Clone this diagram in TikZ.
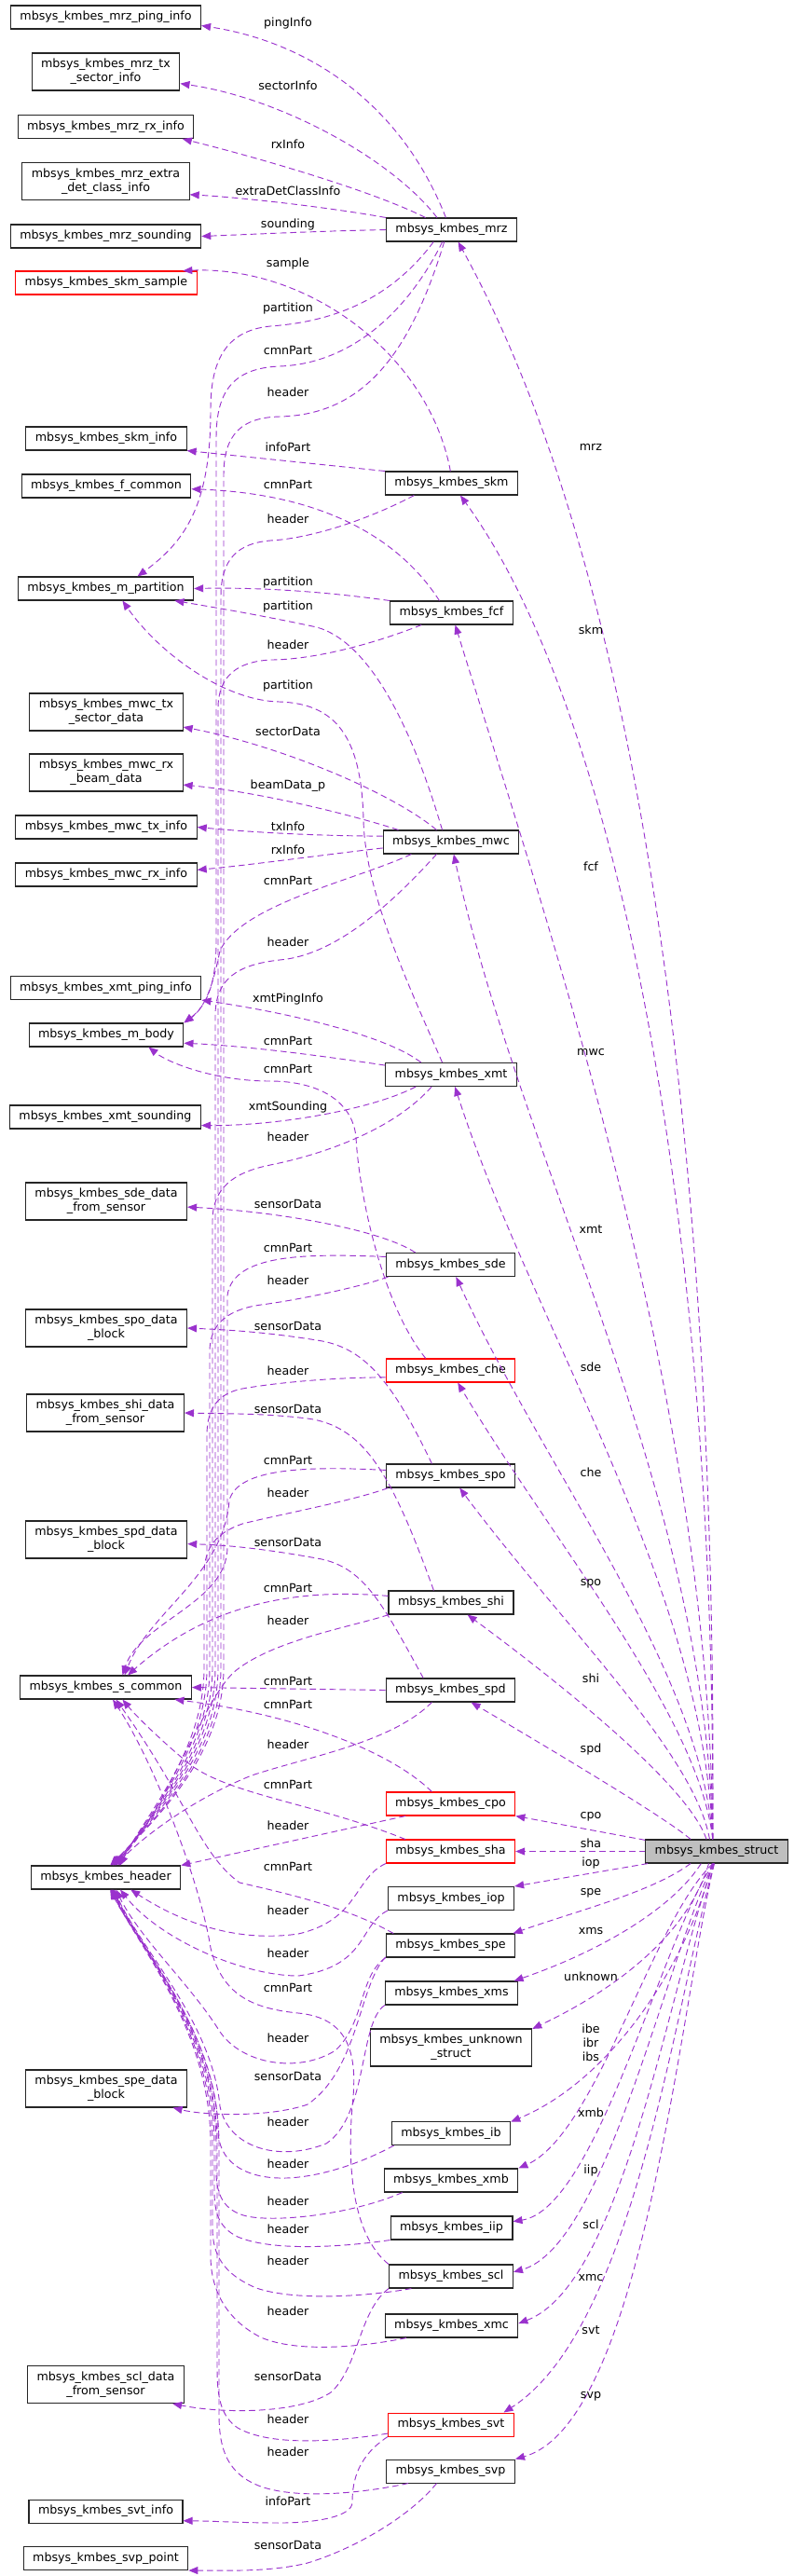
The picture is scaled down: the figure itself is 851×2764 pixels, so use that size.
\documentclass[tikz,border=0pt]{standalone}
\usepackage{fontspec}
\setmainfont{DejaVu Sans}
\usepackage{xcolor}
\usetikzlibrary{arrows.meta}
\definecolor{linkcol}{HTML}{9A32CD}

\begin{document}
\begin{tikzpicture}[x=0.75pt, y=-0.75pt,
    box/.style={draw=black!85, fill=white, line width=0.8pt, inner xsep=7.5pt, inner ysep=2pt, minimum height=18.75pt, font=\fontsize{9.5}{11.25}\selectfont},
    box2/.style={box, align=center, minimum height=30pt},
    redbox/.style={box, draw=red},
    link/.style={draw=linkcol, dash pattern=on 5pt off 3pt, line width=0.7pt, -{Triangle[length=7.5pt,width=6pt]}},
    lbl/.style={font=\fontsize{9.5}{11.25}\selectfont, inner sep=0pt, align=center}]
    \useasboundingbox (0,0) rectangle (851,2764);

    \node[box] (pinginfo) at (113.5,18.5) {mbsys\_kmbes\_mrz\_ping\_info};
    \node[box2] (mrztxsector) at (113.5,77) {mbsys\_kmbes\_mrz\_tx\\\_sector\_info};
    \node[box] (mrzrxinfo) at (113.5,136) {mbsys\_kmbes\_mrz\_rx\_info};
    \node[box2] (extradet) at (113.5,194.5) {mbsys\_kmbes\_mrz\_extra\\\_det\_class\_info};
    \node[box] (mrzsounding) at (113.5,253.5) {mbsys\_kmbes\_mrz\_sounding};
    \node[redbox] (skmsample) at (114,303.5) {mbsys\_kmbes\_skm\_sample};
    \node[box] (skminfo) at (114,470.5) {mbsys\_kmbes\_skm\_info};
    \node[box] (fcommon) at (114,521.5) {mbsys\_kmbes\_f\_common};
    \node[box] (mpartition) at (113.5,631.5) {mbsys\_kmbes\_m\_partition};
    \node[box2] (mwctxsector) at (114,764) {mbsys\_kmbes\_mwc\_tx\\\_sector\_data};
    \node[box2] (mwcrxbeam) at (114,829) {mbsys\_kmbes\_mwc\_rx\\\_beam\_data};
    \node[box] (mwctxinfo) at (114,887.5) {mbsys\_kmbes\_mwc\_tx\_info};
    \node[box] (mwcrxinfo) at (114,938.5) {mbsys\_kmbes\_mwc\_rx\_info};
    \node[box] (xmtpinginfo) at (113.5,1060) {mbsys\_kmbes\_xmt\_ping\_info};
    \node[box] (mbody) at (114,1110.5) {mbsys\_kmbes\_m\_body};
    \node[box] (xmtsounding) at (113,1198.5) {mbsys\_kmbes\_xmt\_sounding};
    \node[box2] (sdedata) at (114,1289) {mbsys\_kmbes\_sde\_data\\\_from\_sensor};
    \node[box2] (spodata) at (114,1425) {mbsys\_kmbes\_spo\_data\\\_block};
    \node[box2] (shidata) at (113,1516) {mbsys\_kmbes\_shi\_data\\\_from\_sensor};
    \node[box2] (spddata) at (114,1652) {mbsys\_kmbes\_spd\_data\\\_block};
    \node[box] (scommon) at (113.5,1810.5) {mbsys\_kmbes\_s\_common};
    \node[box] (header) at (113.5,2014.5) {mbsys\_kmbes\_header};
    \node[box2] (spedata) at (114,2241) {mbsys\_kmbes\_spe\_data\\\_block};
    \node[box2] (scldata) at (113.5,2558.5) {mbsys\_kmbes\_scl\_data\\\_from\_sensor};
    \node[box] (svtinfo) at (113.5,2694.5) {mbsys\_kmbes\_svt\_info};
    \node[box] (svppoint) at (113.5,2745) {mbsys\_kmbes\_svp\_point};

    \node[box] (mrz) at (484.5,246.5) {mbsys\_kmbes\_mrz};
    \node[box] (skm) at (484.5,518.5) {mbsys\_kmbes\_skm};
    \node[box] (fcf) at (484.5,657.5) {mbsys\_kmbes\_fcf};
    \node[box] (mwc) at (484,903.5) {mbsys\_kmbes\_mwc};
    \node[box] (xmt) at (484,1153) {mbsys\_kmbes\_xmt};
    \node[box] (sde) at (483.5,1357) {mbsys\_kmbes\_sde};
    \node[redbox] (che) at (483.5,1470.5) {mbsys\_kmbes\_che};
    \node[box] (spo) at (483.5,1583.5) {mbsys\_kmbes\_spo};
    \node[box] (shi) at (484,1719.5) {mbsys\_kmbes\_shi};
    \node[box] (spd) at (483.5,1813.5) {mbsys\_kmbes\_spd};
    \node[redbox] (cpo) at (483.5,1935.5) {mbsys\_kmbes\_cpo};
    \node[redbox] (sha) at (483.5,1986.5) {mbsys\_kmbes\_sha};
    \node[box] (iop) at (484,2037) {mbsys\_kmbes\_iop};
    \node[box] (spe) at (483.5,2087.5) {mbsys\_kmbes\_spe};
    \node[box] (xms) at (484.5,2138.5) {mbsys\_kmbes\_xms};
    \node[box2] (unknown) at (484,2197) {mbsys\_kmbes\_unknown\\\_struct};
    \node[box] (ib) at (484,2289) {mbsys\_kmbes\_ib};
    \node[box] (xmb) at (484,2339.5) {mbsys\_kmbes\_xmb};
    \node[box] (iip) at (484.5,2390.5) {mbsys\_kmbes\_iip};
    \node[box] (scl) at (484,2442.5) {mbsys\_kmbes\_scl};
    \node[box] (xmc) at (484.5,2495.5) {mbsys\_kmbes\_xmc};
    \node[redbox] (svt) at (484,2601.5) {mbsys\_kmbes\_svt};
    \node[box] (svp) at (483.5,2651.5) {mbsys\_kmbes\_svp};

    \node[box, fill=black!25] (struct) at (769,1986.5) {mbsys\_kmbes\_struct};

    \draw[link] (struct.108) .. controls (770,1250) and (690,620) .. (mrz) node[lbl] at (634,480) {mrz};
    \draw[link] (struct.108) .. controls (768,1300) and (660,760) .. (skm) node[lbl] at (634,676) {skm};
    \draw[link] (struct.108) .. controls (762,1500) and (590,1000) .. (fcf) node[lbl] at (634,930) {fcf};
    \draw[link] (struct.108) .. controls (758,1600) and (560,1250) .. (mwc) node[lbl] at (634,1129) {mwc};
    \draw[link] (struct.108) .. controls (755,1700) and (570,1420) .. (xmt) node[lbl] at (634,1319) {xmt};
    \draw[link] (struct.108) .. controls (752,1790) and (580,1570) .. (sde) node[lbl] at (634,1467) {sde};
    \draw[link] (struct.108) .. controls (750,1840) and (590,1650) .. (che) node[lbl] at (634,1580) {che};
    \draw[link] (struct.120) .. controls (745,1880) and (600,1740) .. (spo) node[lbl] at (634,1699) {spo};
    \draw[link] (struct.130) .. controls (740,1920) and (620,1820) .. (shi) node[lbl] at (634,1801) {shi};
    \draw[link] (struct.155) .. controls (720,1955) and (630,1900) .. (spd) node[lbl] at (634,1877) {spd};
    \draw[link] (struct.171) -- (cpo.south east) node[lbl] at (634,1949) {cpo};
    \draw[link] (struct.west) -- (sha.east) node[lbl] at (634,1978) {sha};
    \draw[link] (struct.190) -- (iop.north east) node[lbl] at (634,1999) {iop};
    \draw[link] (struct.205) .. controls (700,2030) and (620,2050) .. (spe.11) node[lbl] at (634,2031) {spe};
    \draw[link] (struct.218) .. controls (720,2050) and (640,2095) .. (xms.11) node[lbl] at (634,2072) {xms};
    \draw[link] (struct.237) .. controls (740,2070) and (670,2130) .. (unknown.13) node[lbl] at (634,2121) {unknown};
    \draw[link] (struct.250) .. controls (740,2100) and (660,2230) .. (ib.11) node[lbl] at (634,2192) {ibe\\ibr\\ibs};
    \draw[link] (struct.253) .. controls (700,2060) and (640,2290) .. (xmb.north east) node[lbl] at (634,2267) {xmb};
    \draw[link] (struct.255) .. controls (710,2080) and (640,2370) .. (iip.6) node[lbl] at (634,2329) {iip};
    \draw[link] (struct.256) .. controls (715,2100) and (650,2410) .. (scl.4) node[lbl] at (634,2387) {scl};
    \draw[link] (struct.257) .. controls (720,2120) and (670,2450) .. (xmc.2) node[lbl] at (634,2444) {xmc};
    \draw[link] (struct.258) .. controls (725,2150) and (680,2500) .. (svt.13) node[lbl] at (634,2500) {svt};
    \draw[link] (struct.259) .. controls (730,2150) and (690,2600) .. (svp.north east) node[lbl] at (634,2571) {svp};

    \draw[link] (mrz.115) .. controls (430,110) and (330,45) .. (pinginfo.-5) node[lbl] at (309,25) {pingInfo};
    \draw[link] (mrz.140) .. controls (420,170) and (300,105) .. (mrztxsector.-9) node[lbl] at (309,92) {sectorInfo};
    \draw[link] (mrz.155) .. controls (400,205) and (280,170) .. (mrzrxinfo.-9) node[lbl] at (309,155) {rxInfo};
    \draw[link] (mrz.north west) .. controls (350,222) and (260,212) .. (extradet.-9) node[lbl] at (309,205) {extraDetClassInfo};
    \draw[link] (mrz.west) .. controls (340,248) and (280,251) .. (mrzsounding.east) node[lbl] at (309,241) {sounding};
    \draw[link] (mrz.214) .. controls (420,320) and (360,345) .. (290,350) .. controls (240,355) and (226,390) .. (226,440) .. controls (226,540) and (200,580) .. (mpartition.21) node[lbl] at (309,331) {partition};
    \draw[link] (mrz.233) .. controls (440,330) and (380,390) .. (300,393) .. controls (250,395) and (232,420) .. (232,470) -- (232,1010) .. controls (232,1060) and (220,1080) .. (mbody.north east) node[lbl] at (309,376) {cmnPart};
    \draw[link] (mrz.239) .. controls (440,380) and (390,445) .. (300,447) .. controls (260,448) and (240,465) .. (240,510) -- (240,1790) .. controls (240,1880) and (170,1950) .. (header.70) node[lbl] at (309,421) {header};

    \draw[link] (skm.95) .. controls (460,380) and (330,285) .. (skmsample.9) node[lbl] at (309,283) {sample};
    \draw[link] (skm.north west) -- (skminfo.south east) node[lbl] at (309,480) {infoPart};
    \draw[link] (skm.198) .. controls (390,560) and (330,578) .. (290,580) .. controls (255,583) and (237,600) .. (237,640) -- (237,1790) .. controls (237,1880) and (168,1950) .. (header.65) node[lbl] at (309,557) {header};

    \draw[link] (fcf.135) .. controls (430,580) and (350,530) .. (fcommon.-2) node[lbl] at (309,520) {cmnPart};
    \draw[link] (fcf.north west) .. controls (350,635) and (280,630) .. (mpartition.east) node[lbl] at (309,625) {partition};
    \draw[link] (fcf.202) .. controls (390,695) and (330,708) .. (290,708) .. controls (255,710) and (234,725) .. (234,760) -- (234,1790) .. controls (234,1880) and (165,1950) .. (header.60) node[lbl] at (309,692) {header};

    \draw[link] (mwc.126) .. controls (445,790) and (400,690) .. (340,673) .. controls (280,660) and (220,650) .. (mpartition.-10) node[lbl] at (309,651) {partition};
    \draw[link] (mwc.140) .. controls (420,850) and (300,800) .. (mwctxsector.-11) node[lbl] at (309,785) {sectorData};
    \draw[link] (mwc.167) .. controls (380,875) and (280,850) .. (mwcrxbeam.-9) node[lbl] at (309,843) {beamData\_p};
    \draw[link] (mwc.175) .. controls (340,897) and (270,893) .. (mwctxinfo.east) node[lbl] at (309,887) {txInfo};
    \draw[link] (mwc.185) .. controls (340,918) and (270,928) .. (mwcrxinfo.3) node[lbl] at (309,912) {rxInfo};
    \draw[link] (mwc.197) .. controls (380,945) and (260,970) .. (236,1020) .. controls (230,1050) and (222,1080) .. (mbody.north east) node[lbl] at (309,945) {cmnPart};
    \draw[link] (mwc.220) .. controls (420,970) and (360,1025) .. (300,1030) .. controls (255,1035) and (231,1050) .. (231,1090) -- (231,1790) .. controls (231,1880) and (162,1950) .. (header.55) node[lbl] at (309,1011) {header};

    \draw[link] (xmt.126) .. controls (440,1060) and (392,960) .. (390,880) .. controls (388,790) and (360,755) .. (300,753) .. controls (240,752) and (170,700) .. (mpartition.-36) node[lbl] at (309,736) {partition};
    \draw[link] (xmt.158) .. controls (420,1115) and (330,1090) .. (xmtpinginfo.south east) node[lbl] at (309,1072) {xmtPingInfo};
    \draw[link] (xmt.172) .. controls (340,1132) and (260,1122) .. (mbody.-6) node[lbl] at (309,1117) {cmnPart};
    \draw[link] (xmt.199) .. controls (400,1190) and (300,1208) .. (xmtsounding.-5) node[lbl] at (309,1188) {xmtSounding};
    \draw[link] (xmt.212) .. controls (420,1215) and (340,1240) .. (290,1250) .. controls (250,1258) and (228,1275) .. (228,1310) -- (228,1790) .. controls (228,1880) and (160,1950) .. (header.50) node[lbl] at (309,1220) {header};

    \draw[link] (sde.161) .. controls (410,1320) and (300,1300) .. (sdedata.-4) node[lbl] at (309,1292) {sensorData};
    \draw[link] (sde.173) .. controls (330,1345) and (250,1345) .. (244,1390) -- (244,1660) .. controls (244,1720) and (150,1740) .. (scommon.36) node[lbl] at (309,1339) {cmnPart};
    \draw[link] (sde.191) .. controls (390,1380) and (320,1395) .. (280,1400) .. controls (245,1405) and (225,1420) .. (225,1450) -- (225,1790) .. controls (225,1880) and (158,1950) .. (header.45) node[lbl] at (309,1374) {header};

    \draw[link] (che.154) .. controls (410,1400) and (385,1280) .. (382,1220) .. controls (378,1180) and (340,1160) .. (290,1160) .. controls (230,1160) and (180,1140) .. (mbody.-16) node[lbl] at (309,1147) {cmnPart};
    \draw[link] (che.186) .. controls (360,1478) and (300,1483) .. (260,1490) .. controls (235,1495) and (222,1510) .. (222,1540) -- (222,1790) .. controls (222,1880) and (156,1950) .. (header.42) node[lbl] at (309,1471) {header};

    \draw[link] (spo.147) .. controls (420,1480) and (390,1445) .. (340,1438) .. controls (290,1430) and (250,1427) .. (spodata.east) node[lbl] at (309,1423) {sensorData};
    \draw[link] (spo.175) .. controls (330,1573) and (255,1575) .. (246,1610) .. controls (240,1690) and (160,1730) .. (scommon.33) node[lbl] at (309,1567) {cmnPart};
    \draw[link] (spo.191) .. controls (380,1610) and (300,1625) .. (260,1635) .. controls (232,1645) and (219,1660) .. (219,1690) -- (219,1790) .. controls (219,1880) and (154,1950) .. (header.40) node[lbl] at (309,1602) {header};

    \draw[link] (shi.145) .. controls (420,1580) and (390,1530) .. (330,1522) .. controls (280,1516) and (240,1517) .. (shidata.east) node[lbl] at (309,1512) {sensorData};
    \draw[link] (shi.174) .. controls (330,1705) and (230,1715) .. (scommon.29) node[lbl] at (309,1704) {cmnPart};
    \draw[link] (shi.191) .. controls (380,1745) and (290,1760) .. (250,1795) .. controls (215,1830) and (175,1950) .. (header.58) node[lbl] at (309,1739) {header};

    \draw[link] (spd.156) .. controls (410,1720) and (390,1680) .. (340,1672) .. controls (290,1663) and (250,1658) .. (spddata.-3) node[lbl] at (309,1655) {sensorData};
    \draw[link] (spd.west) -- (scommon.east) node[lbl] at (309,1804) {cmnPart};
    \draw[link] (spd.213) .. controls (420,1870) and (330,1885) .. (270,1905) .. controls (220,1925) and (165,1960) .. (header.52) node[lbl] at (309,1872) {header};

    \draw[link] (cpo.147) .. controls (420,1880) and (320,1840) .. (scommon.-10) node[lbl] at (309,1829) {cmnPart};
    \draw[link] (cpo.195) -- (header.north east) node[lbl] at (309,1959) {header};

    \draw[link] (sha.165) .. controls (340,1935) and (240,1925) .. (200,1890) .. controls (170,1865) and (145,1840) .. (scommon.-36) node[lbl] at (309,1915) {cmnPart};
    \draw[link] (sha.south west) .. controls (380,2015) and (385,2060) .. (320,2075) .. controls (250,2085) and (190,2060) .. (header.-26) node[lbl] at (309,2050) {header};

    \draw[link] (iop.south west) .. controls (385,2065) and (395,2110) .. (320,2120) .. controls (260,2120) and (170,2080) .. (header.-40) node[lbl] at (309,2096) {header};

    \draw[link] (spe.168) .. controls (370,2045) and (300,2030) .. (257,2020) .. controls (215,1990) and (200,1930) .. (scommon.-50) node[lbl] at (309,2003) {cmnPart};
    \draw[link] (spe.south west) .. controls (385,2120) and (392,2170) .. (360,2200) .. controls (320,2225) and (260,2215) .. (236,2180) .. controls (205,2130) and (150,2080) .. (header.-50) node[lbl] at (309,2187) {header};
    \draw[link] (spe.190) .. controls (385,2130) and (385,2220) .. (330,2258) .. controls (290,2272) and (220,2270) .. (spedata.-16) node[lbl] at (309,2228) {sensorData};

    \draw[link] (xms.south west) .. controls (385,2170) and (395,2270) .. (350,2300) .. controls (300,2320) and (245,2305) .. (236,2260) .. controls (228,2170) and (150,2090) .. (header.-55) node[lbl] at (309,2277) {header};

    \draw[link] (ib.192) .. controls (390,2320) and (340,2338) .. (300,2337) .. controls (260,2336) and (234,2318) .. (234,2285) .. controls (232,2180) and (150,2090) .. (header.-60) node[lbl] at (309,2322) {header};

    \draw[link] (xmb.194) .. controls (380,2375) and (300,2385) .. (265,2378) .. controls (240,2372) and (232,2355) .. (232,2330) -- (232,2300) .. controls (232,2180) and (150,2090) .. (header.-62) node[lbl] at (309,2362) {header};

    \draw[link] (iip.south west) .. controls (360,2412) and (290,2415) .. (255,2400) .. controls (235,2390) and (230,2375) .. (230,2350) -- (230,2300) .. controls (230,2180) and (150,2090) .. (header.-64) node[lbl] at (309,2392) {header};

    \draw[link] (scl.north west) .. controls (380,2400) and (372,2330) .. (378,2260) .. controls (385,2200) and (372,2165) .. (320,2160) .. controls (270,2155) and (238,2140) .. (226,2090) .. controls (215,2020) and (165,1890) .. (scommon.-60) node[lbl] at (309,2133) {cmnPart};
    \draw[link] (scl.197) .. controls (400,2463) and (320,2470) .. (275,2455) .. controls (240,2440) and (228,2420) .. (228,2390) -- (228,2300) .. controls (228,2180) and (150,2090) .. (header.-66) node[lbl] at (309,2426) {header};
    \draw[link] (scl.south west) .. controls (385,2480) and (385,2540) .. (355,2567) .. controls (320,2590) and (240,2590) .. (scldata.-16) node[lbl] at (309,2550) {sensorData};

    \draw[link] (xmc.195) .. controls (390,2518) and (320,2525) .. (280,2508) .. controls (245,2490) and (226,2460) .. (226,2420) -- (226,2300) .. controls (226,2180) and (150,2090) .. (header.-68) node[lbl] at (309,2480) {header};

    \draw[link] (svt.188) .. controls (360,2620) and (290,2625) .. (255,2605) .. controls (236,2592) and (233,2570) .. (233,2540) -- (233,2300) .. controls (233,2180) and (150,2090) .. (header.-58) node[lbl] at (309,2596) {header};
    \draw[link] (svt.south west) .. controls (385,2635) and (378,2660) .. (378,2685) .. controls (378,2700) and (340,2707) .. (300,2707) .. controls (260,2707) and (230,2705) .. (svtinfo.-7) node[lbl] at (309,2684) {infoPart};

    \draw[link] (svp.196) .. controls (390,2675) and (320,2682) .. (280,2668) .. controls (245,2655) and (235,2630) .. (235,2590) -- (235,2300) .. controls (235,2180) and (150,2090) .. (header.-70) node[lbl] at (309,2631) {header};
    \draw[link] (svp.221) .. controls (440,2700) and (380,2735) .. (330,2750) .. controls (290,2760) and (240,2758) .. (svppoint.south east) node[lbl] at (309,2731) {sensorData};
\end{tikzpicture}
\end{document}
